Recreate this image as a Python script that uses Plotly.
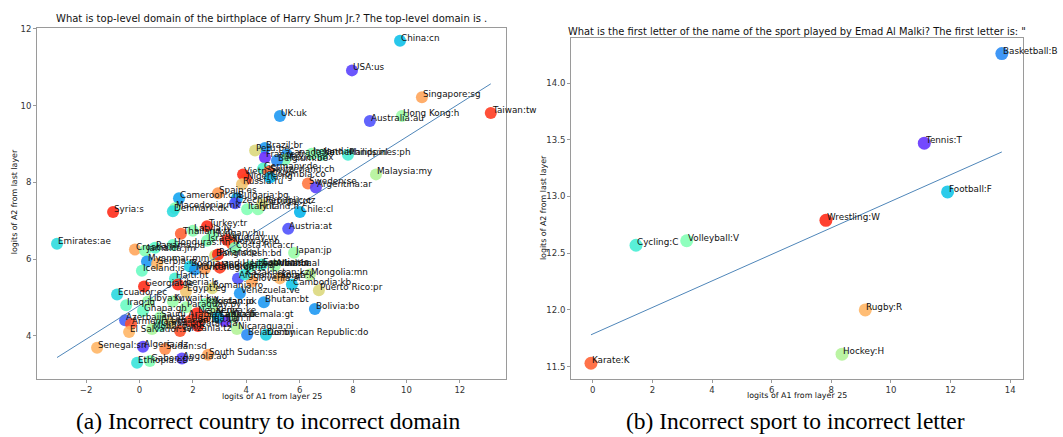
import math
import numpy as np
import plotly.graph_objects as go

# ---------------- data: panel (a) ----------------
country_labels = [
    "China:cn", "USA:us", "Singapore:sg", "Taiwan:tw", "Hong Kong:h", "UK:uk", "Australia:au",
    "Brazil:br", "Peru:pe", "France:fr", "Canada:ca", "Mexico:mx", "Belgium:be", "Netherlands:nl",
    "Ireland:ie", "Philippines:ph", "Germany:de", "Switzerland:ch", "Vietnam:vn", "Nigeria:ng",
    "Colombia:co", "Russia:ru", "Sweden:se", "Argentina:ar", "Malaysia:my", "Chile:cl", "Austria:at",
    "Japan:jp", "Italy:it", "Finland:fi", "Bulgaria:bg", "Czech Republic:cz", "Portugal:pt",
    "Spain:es", "Cameroon:cm", "Macedonia:mk", "Denmark:dk", "Syria:s", "Turkey:tr", "Thailand:th",
    "Latvia:lv", "Hungary:hu", "Israel:il", "Uruguay:uy", "Norway:no", "Honduras:hn", "Costa Rica:cr",
    "Croatia:hr", "Jamaica:jm", "Panama:pa", "Emirates:ae", "Myanmar:mm", "Serbia:rs", "Iceland:is",
    "Georgia:ge", "Ecuador:ec", "Libya:ly", "Iraq:iq", "Ghana:gh", "Kuwait:kw", "Haiti:ht", "Egypt:eg",
    "Liberia:lr", "Romania:ro", "Venezuela:ve", "Slovenia:si", "Korea:k", "Cambodia:kb", "Mongolia:mn",
    "Bosnia and Herzegovina:ba", "Puerto Rico:pr", "Bhutan:bt", "Pakistan:pk", "Jordan:jo",
    "Bolivia:bo", "Guatemala:gt", "Nicaragua:ni", "Belarus:by", "Dominican Republic:do",
    "South Sudan:ss", "Paraguay:py", "Azerbaijan:az", "Armenia:am", "El Salvador:sv", "Tanzania:tz",
    "Monaco:mc", "Senegal:sn", "Algeria:dz", "Sudan:sd", "Ethiopia:et", "Gabon:ga", "Angola:ao",
    "Bangladesh:bd", "Montenegro:me", "Ukraine:ua", "Moldova:md", "Lithuania:lt", "Estonia:ee",
    "Albania:al", "Afghanistan:af", "Kazakhstan:kz", "Nepal:np", "Sri Lanka:lk", "Uganda:ug",
    "Kenya:ke", "Iran:ir", "Saudi Arabia:sa", "Lebanon:lb", "Qatar:qa", "Poland:pl", "Cuba:cu",
    "Oman:om",
]
country_a1 = [
    9.76, 7.96, 10.58, 13.16, 9.83, 5.26, 8.63,
    4.70, 4.33, 4.70, 5.52, 5.45, 5.15, 6.84,
    6.45, 7.81, 4.63, 4.85, 3.88, 3.99,
    4.89, 3.84, 6.31, 6.61, 8.86, 6.01, 5.57,
    5.79, 4.03, 4.44, 3.65, 3.58, 4.59,
    2.94, 1.48, 1.33, 1.25, -0.99, 2.53, 1.55,
    2.00, 2.72, 2.53, 3.28, 3.46, 1.25, 3.58,
    -0.17, 0.21, 0.58, -3.09, 0.28, 0.66, 0.09,
    0.17, -0.84, 0.32, -0.50, 0.13, 1.25, 1.33, 1.74,
    1.44, 2.72, 3.76, 4.21, 5.26, 5.71, 6.38,
    1.89, 6.72, 4.66, 2.45, 2.75,
    6.57, 3.46, 3.65, 4.03, 4.74,
    2.57, 1.74, -0.54, -0.32, -0.39, 1.52,
    0.47, -1.59, 0.13, 0.96, -0.09, 0.39, 1.59,
    2.83, 2.08, 2.45, 3.01, 4.14, 4.59,
    5.07, 3.69, 3.95, 2.15, 2.45, 1.89,
    2.83, 3.20, 0.77, 1.14, 2.19, 2.94, 2.94,
    0.77,
]
country_a2 = [
    11.69, 10.92, 10.22, 9.81, 9.73, 9.73, 9.60,
    8.90, 8.83, 8.65, 8.72, 8.59, 8.57, 8.72,
    8.75, 8.72, 8.36, 8.28, 8.21, 8.08,
    8.13, 7.95, 7.97, 7.87, 8.21, 7.23, 6.79,
    6.17, 7.30, 7.30, 7.59, 7.46, 7.43,
    7.72, 7.59, 7.33, 7.25, 7.23, 6.86, 6.66,
    6.74, 6.61, 6.48, 6.50, 6.40, 6.37, 6.30,
    6.25, 6.22, 6.30, 6.40, 5.94, 5.88, 5.70,
    5.29, 5.08, 4.90, 4.80, 4.65, 4.90, 5.50, 5.16,
    5.34, 5.24, 5.11, 5.42, 5.50, 5.34, 5.60,
    5.81, 5.19, 4.88, 4.83, 4.83,
    4.70, 4.49, 4.18, 4.03, 4.03,
    3.51, 4.75, 4.41, 4.31, 4.10, 4.13,
    4.18, 3.69, 3.72, 3.66, 3.30, 3.35, 3.41,
    6.09, 5.73, 5.75, 5.78, 5.81, 5.86,
    5.83, 5.50, 5.60, 4.59, 4.49, 4.39,
    4.59, 4.39, 4.49, 4.34, 4.26, 6.12, 4.49,
    4.26,
]

# ---------------- data: panel (b) ----------------
sport_labels = ["Basketball:B", "Tennis:T", "Football:F", "Wrestling:W", "Cycling:C",
                "Volleyball:V", "Rugby:R", "Hockey:H", "Karate:K"]
sport_a1 = [13.72, 11.12, 11.90, 7.82, 1.45, 3.15, 9.14, 8.36, -0.06]
sport_a2 = [14.26, 13.47, 13.04, 12.79, 12.57, 12.61, 12.00, 11.61, 11.53]

# ---------------- styles (rainbow colormap positions) ----------------
country_tone = [
    0.27, 0.08, 0.78, 0.93, 0.55, 0.20, 0.10,
    0.20, 0.68, 0.05, 0.20, 0.50, 0.18, 0.45,
    0.52, 0.38, 0.40, 0.88, 0.95, 0.92,
    0.25, 0.72, 0.85, 0.08, 0.60, 0.25, 0.10,
    0.55, 0.50, 0.52, 0.22, 0.10, 0.68,
    0.80, 0.22, 0.50, 0.33, 0.95, 0.95, 0.88,
    0.52, 0.50, 0.50, 0.95, 0.90, 0.45, 0.50,
    0.78, 0.50, 0.42, 0.33, 0.20, 0.75, 0.45,
    0.95, 0.32, 0.55, 0.45, 0.45, 0.55, 0.38, 0.72,
    0.95, 0.68, 0.20, 0.78, 0.75, 0.28, 0.60,
    0.30, 0.68, 0.20, 0.50, 0.52,
    0.20, 0.55, 0.60, 0.18, 0.30,
    0.78, 0.55, 0.12, 0.90, 0.75, 0.90,
    0.58, 0.75, 0.08, 0.82, 0.35, 0.50, 0.08,
    0.68, 0.20, 0.80, 0.93, 0.45, 0.38,
    0.55, 0.10, 0.35, 0.95, 0.88, 0.92,
    0.60, 0.05, 0.55, 0.70, 0.95, 0.95, 0.25,
    0.45,
]
sport_tone = [0.18, 0.06, 0.28, 0.95, 0.38, 0.50, 0.75, 0.60, 0.88]


def rainbow(t):
    r = min(1.0, abs(2 * t - 0.5))
    g = math.sin(math.pi * t)
    b = math.cos(math.pi * t / 2)
    return "rgb(%d,%d,%d)" % (round(r * 255), round(g * 255), round(b * 255))


W, H = 1063, 437
FONT = "DejaVu Sans"
AX_COLOR = "#9a9a9a"
LINE_COLOR = "#4f86b9"


def px_x(p):
    return p / W


def px_y(p):
    return 1 - p / H


fig = go.Figure()

# panel (a)
fig.add_trace(go.Scatter(
    x=country_a1, y=country_a2, mode="markers",
    marker=dict(size=12, color=[rainbow(t) for t in country_tone], opacity=0.88, line=dict(width=0)),
    xaxis="x", yaxis="y", hoverinfo="skip", showlegend=False))
ca = np.polyfit(country_a1, country_a2, 1)
xa = np.array([min(country_a1), max(country_a1)])
fig.add_trace(go.Scatter(x=xa, y=np.polyval(ca, xa), mode="lines",
                         line=dict(color=LINE_COLOR, width=1), xaxis="x", yaxis="y",
                         hoverinfo="skip", showlegend=False))

# panel (b)
fig.add_trace(go.Scatter(
    x=sport_a1, y=sport_a2, mode="markers",
    marker=dict(size=13, color=[rainbow(t) for t in sport_tone], opacity=0.88, line=dict(width=0)),
    xaxis="x2", yaxis="y2", hoverinfo="skip", showlegend=False))
cb = np.polyfit(sport_a1, sport_a2, 1)
xb = np.array([min(sport_a1), max(sport_a1)])
fig.add_trace(go.Scatter(x=xb, y=np.polyval(cb, xb), mode="lines",
                         line=dict(color=LINE_COLOR, width=1), xaxis="x2", yaxis="y2",
                         hoverinfo="skip", showlegend=False))

annotations = []
for lab, x, y in zip(country_labels, country_a1, country_a2):
    annotations.append(dict(x=x, y=y, xref="x", yref="y", text=lab, showarrow=False,
                            xanchor="left", yanchor="bottom", yshift=-3, borderpad=0,
                            font=dict(family=FONT, size=8.8, color="#111")))
for lab, x, y in zip(sport_labels, sport_a1, sport_a2):
    annotations.append(dict(x=x, y=y, xref="x2", yref="y2", text=lab, showarrow=False,
                            xanchor="left", yanchor="bottom", yshift=-3, borderpad=0,
                            font=dict(family=FONT, size=8.8, color="#111")))


def paper_text(text, x, y, size, family=FONT, angle=0, color="#111"):
    annotations.append(dict(x=px_x(x), y=px_y(y), xref="paper", yref="paper", text=text,
                            showarrow=False, xanchor="center", yanchor="middle", textangle=angle,
                            font=dict(family=family, size=size, color=color)))


paper_text("What is top-level domain of the birthplace of Harry Shum Jr.? The top-level domain is .",
           271.5, 15, 10)
paper_text("What is the first letter of the name of the sport played by Emad Al Malki? The first letter is: \"",
           797, 28, 9.9)
paper_text("logits of A1 from layer 25", 271.5, 396, 7.9)
paper_text("logits of A1 from layer 25", 797, 395, 7.9)
paper_text("logits of A2 from last layer", 14, 200, 7.9, angle=-90)
paper_text("logits of A2 from last layer", 543, 206, 7.9, angle=-90)
paper_text("(a) Incorrect country to incorrect domain", 268, 421, 23.5, family="Liberation Serif", color="#000")
paper_text("(b) Incorrect sport to incorrect letter", 795, 421, 23.5, family="Liberation Serif", color="#000")

axis_common = dict(showgrid=False, zeroline=False, showline=True, mirror=True,
                   linecolor=AX_COLOR, linewidth=1, ticks="outside", ticklen=3,
                   tickcolor=AX_COLOR, tickfont=dict(family=FONT, size=8.5, color="#333"))

fig.update_layout(
    width=W, height=H, margin=dict(l=0, r=0, t=0, b=0),
    paper_bgcolor="white", plot_bgcolor="white",
    xaxis=dict(domain=[px_x(37), px_x(506)], range=[-3.84, 13.73], tickvals=[-2, 0, 2, 4, 6, 8, 10, 12],
               ticktext=["\u22122", "0", "2", "4", "6", "8", "10", "12"], anchor="y", **axis_common),
    yaxis=dict(domain=[px_y(378), px_y(24)], range=[2.89, 12.03], tickvals=[4, 6, 8, 10, 12],
               anchor="x", **axis_common),
    xaxis2=dict(domain=[px_x(571), px_x(1023)], range=[-0.73, 14.43],
                tickvals=[0, 2, 4, 6, 8, 10, 12, 14], anchor="y2", **axis_common),
    yaxis2=dict(domain=[px_y(378), px_y(34)], range=[11.395, 14.40],
                tickvals=[11.5, 12.0, 12.5, 13.0, 13.5, 14.0],
                ticktext=["11.5", "12.0", "12.5", "13.0", "13.5", "14.0"], anchor="x2", **axis_common),
    annotations=annotations,
)

fig.write_html("out.html")
